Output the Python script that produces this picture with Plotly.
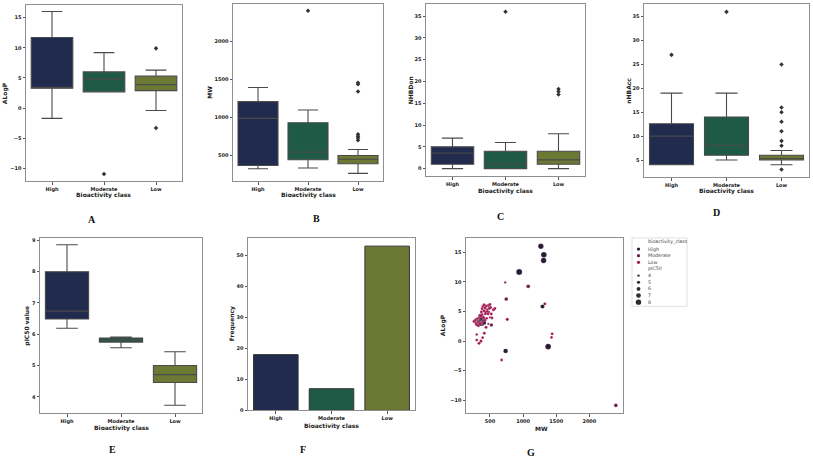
import plotly.graph_objects as go

W, H = 813, 461
classes = ["High", "Moderate", "Low"]
class_fill = ["#212b4e", "#1f5a46", "#6b7934"]

# ---- A: ALogP box stats
alogp_q1 = [3.3, 2.7, 2.9]
alogp_med = [3.4, 4.8, 3.9]
alogp_q3 = [11.7, 6.0, 5.3]
alogp_lo = [-1.7, 2.7, -0.4]
alogp_hi = [16.0, 9.2, 6.3]
alogp_out_cls = ["Moderate", "Low", "Low"]
alogp_out = [-10.9, 9.9, -3.3]

# ---- B: MW box stats
mw_q1 = [363, 438, 386]
mw_med = [985, 540, 445]
mw_q3 = [1205, 927, 495]
mw_lo = [320, 329, 258]
mw_hi = [1393, 1094, 574]
mw_out_cls = ["Moderate", "Low", "Low", "Low", "Low", "Low", "Low", "Low"]
mw_out = [2405, 1455, 1435, 1340, 775, 750, 725, 695]

# ---- C: NHBDon box stats
don_q1 = [1, 0, 1]
don_med = [3.6, 1, 2]
don_q3 = [5, 4, 4]
don_lo = [0, 0, 0]
don_hi = [7, 6, 8]
don_out_cls = ["Moderate", "Low", "Low", "Low"]
don_out = [36, 18.3, 17.7, 17]

# ---- D: nHBAcc box stats
acc_q1 = [4, 6, 5]
acc_med = [10, 8, 5.3]
acc_q3 = [12.6, 14, 6]
acc_lo = [4, 5, 4]
acc_hi = [19, 19, 7]
acc_out_cls = ["High", "Moderate", "Low", "Low", "Low", "Low", "Low", "Low", "Low", "Low"]
acc_out = [27, 36, 25, 16, 15, 13, 11, 9, 8, 3]

# ---- E: pIC50 box stats
pic_q1 = [6.49, 5.75, 4.46]
pic_med = [6.74, 5.82, 4.71]
pic_q3 = [8.0, 5.88, 5.0]
pic_lo = [6.19, 5.57, 3.73]
pic_hi = [8.86, 5.91, 5.44]
pic_out_cls = []
pic_out = []

# ---- F: counts
counts = [18, 7, 53]

# ---- G: scatter MW vs ALogP
high_mw = [1268, 1313, 1309, 941, 1293, 736, 1378, 330, 345, 352, 360, 372, 380, 395, 405, 340, 366, 410]
high_alogp = [16.0, 14.57, 13.6, 11.67, 5.83, -1.67, -0.93, 3.3, 3.0, 3.6, 3.2, 3.5, 2.9, 3.7, 3.4, 2.8, 3.9, 3.1]
high_pic50 = [8.0, 8.3, 8.1, 8.8, 6.3, 7.0, 8.5, 6.5, 6.8, 6.2, 7.2, 6.6, 6.4, 6.7, 6.3, 6.5, 6.2, 6.6]

mod_mw = [2400, 1077, 745, 440, 520, 480, 350]
mod_alogp = [-10.83, 9.23, 7.1, 4.8, 2.7, 6.0, 4.3]
mod_pic50 = [5.8, 5.9, 5.75, 5.85, 5.6, 5.8, 5.88]

low_mw = [730, 1328, 676, 1429, 1438, 761,
          390, 440, 490, 510, 459, 410, 550, 480, 430, 380,
          520, 500, 450, 400, 339, 300, 272, 262, 289, 380,
          410, 500, 560, 575, 470, 360, 369, 310, 282, 300,
          324, 440, 474, 414, 390, 364, 334, 300, 300, 420,
          530, 455, 345, 380, 490, 425, 355]
low_alogp = [9.9, 6.28, -3.2, 0.62, 1.22, 3.67,
             5.78, 5.9, 6.0, 5.67, 5.33, 5.12, 5.23, 4.9, 4.57, 4.45,
             4.57, 4.0, 3.83, 4.0, 4.0, 3.67, 3.45, 3.33, 3.0, 5.45,
             6.1, 6.2, 5.35, 5.5, 4.6, 4.25, 4.9, 3.8, 3.55, 2.78,
             2.57, 2.33, 2.9, 1.33, 0.57, 0.0, -0.38, 0.17, 1.12, 3.5,
             3.9, 5.0, 3.2, 3.1, 5.5, 5.6, 2.9]
low_pic50 = [4.0, 4.8, 4.6, 4.5, 4.7, 5.0,
             4.7, 5.1, 4.5, 4.9, 4.3, 5.0, 4.6, 4.8, 4.4, 5.2,
             4.7, 3.9, 4.5, 5.0, 4.6, 4.8, 4.2, 5.3, 4.7, 4.5,
             4.9, 4.6, 5.0, 4.4, 4.8, 5.4, 4.7, 4.3, 4.6, 5.1,
             4.5, 4.9, 3.73, 4.7, 4.4, 5.0, 4.8, 4.6, 4.2, 5.2,
             4.7, 4.5, 4.9, 4.1, 4.6, 4.8, 5.0]

scatter_colors = ["#2b1a33", "#6e1f4f", "#a3164f"]
legend_sizes = [4, 5, 6, 7, 8]


def size_px(p):
    return 2.4 + (p - 4) * 0.75


def xd(a, b):
    return [a / W, b / W]


def yd(top, bot):
    return [1 - bot / H, 1 - top / H]


FONT = "DejaVu Sans"
TICKFONT = dict(family=FONT, size=5, color="#222", weight="bold")
AX = dict(showline=True, mirror=True, linecolor="#8f8f8f", linewidth=1,
          ticks="outside", ticklen=2.5, tickwidth=0.8, tickcolor="#555",
          showgrid=False, zeroline=False, tickfont=TICKFONT)

fig = go.Figure()
annotations = []
layout_axes = {}


def add_title(text, x, y, angle=0, size=6):
    annotations.append(dict(text=text, x=x / W, y=1 - y / H, xref="paper", yref="paper",
                            showarrow=False, textangle=angle, xanchor="center", yanchor="middle",
                            font=dict(family=FONT, size=size, color="#222", weight="bold")))


def add_letter(text, x, y):
    annotations.append(dict(text=text, x=x / W, y=1 - y / H, xref="paper", yref="paper",
                            showarrow=False, xanchor="center", yanchor="middle",
                            font=dict(family="Liberation Serif", size=10, color="#111", weight="bold")))


box_panels = [
    dict(n=1, q1=alogp_q1, med=alogp_med, q3=alogp_q3, lo=alogp_lo, hi=alogp_hi,
         oc=alogp_out_cls, ov=alogp_out, xdom=(26, 182), ydom=(4, 182), yr=[-12.14, 17.09],
         yt=[-10, -5, 0, 5, 10, 15], ytitle="ALogP", ytx=5, xty=196, letter="A", lx=92, ly=220),
    dict(n=2, q1=mw_q1, med=mw_med, q3=mw_q3, lo=mw_lo, hi=mw_hi,
         oc=mw_out_cls, ov=mw_out, xdom=(233, 383), ydom=(3, 182), yr=[152, 2495],
         yt=[500, 1000, 1500, 2000], ytitle="MW", ytx=210, xty=196, letter="B", lx=316, ly=219),
    dict(n=3, q1=don_q1, med=don_med, q3=don_q3, lo=don_lo, hi=don_hi,
         oc=don_out_cls, ov=don_out, xdom=(426, 585), ydom=(3, 177), yr=[-1.8, 37.8],
         yt=[0, 5, 10, 15, 20, 25, 30, 35], ytitle="NHBDon", ytx=410, xty=192, letter="C", lx=500, ly=217),
    dict(n=4, q1=acc_q1, med=acc_med, q3=acc_q3, lo=acc_lo, hi=acc_hi,
         oc=acc_out_cls, ov=acc_out, xdom=(644, 809), ydom=(3, 178), yr=[1.35, 37.65],
         yt=[5, 10, 15, 20, 25, 30, 35], ytitle="nHBAcc", ytx=629, xty=192, letter="D", lx=716, ly=213),
    dict(n=5, q1=pic_q1, med=pic_med, q3=pic_q3, lo=pic_lo, hi=pic_hi,
         oc=pic_out_cls, ov=pic_out, xdom=(40, 202), ydom=(239, 416), yr=[3.47, 9.08],
         yt=[4, 5, 6, 7, 8, 9], ytitle="pIC50 value", ytx=27, xty=431, letter="E", lx=112, ly=452),
]

for p in box_panels:
    n = p["n"]
    xa, ya = f"x{n}", f"y{n}"
    for i, c in enumerate(classes):
        fig.add_trace(go.Box(
            x=[c], q1=[p["q1"][i]], median=[p["med"][i]], q3=[p["q3"][i]],
            lowerfence=[p["lo"][i]], upperfence=[p["hi"][i]],
            width=0.8, whiskerwidth=0.5, boxpoints=False,
            fillcolor=class_fill[i], line=dict(color="#4a4a4a", width=1.1),
            xaxis=xa, yaxis=ya, showlegend=False, hoverinfo="skip"))
    if p["ov"]:
        fig.add_trace(go.Scatter(
            x=p["oc"], y=p["ov"], mode="markers",
            marker=dict(symbol="diamond", size=3.5, color="#333", opacity=1),
            xaxis=xa, yaxis=ya, showlegend=False, hoverinfo="skip"))
    sfx = "" if n == 1 else str(n)
    layout_axes[f"xaxis{sfx}"] = dict(AX, domain=xd(*p["xdom"]), anchor=ya, type="category",
                                      categoryorder="array", categoryarray=classes, range=[-0.5, 2.5])
    layout_axes[f"yaxis{sfx}"] = dict(AX, domain=yd(*p["ydom"]), anchor=xa, range=p["yr"],
                                      tickvals=p["yt"])
    add_title(p["ytitle"], p["ytx"], (p["ydom"][0] + p["ydom"][1]) / 2, angle=-90)
    add_title("Bioactivity class", (p["xdom"][0] + p["xdom"][1]) / 2, p["xty"])
    add_letter(p["letter"], p["lx"], p["ly"])

# ---- F: bar chart
fig.add_trace(go.Bar(x=classes, y=counts, width=0.8,
                     marker=dict(color=class_fill, line=dict(color="#333", width=1)),
                     xaxis="x6", yaxis="y6", showlegend=False, hoverinfo="skip"))
layout_axes["xaxis6"] = dict(AX, domain=xd(248, 415), anchor="y6", type="category",
                             categoryorder="array", categoryarray=classes, range=[-0.5, 2.5])
layout_axes["yaxis6"] = dict(AX, domain=yd(239, 413), anchor="x6", range=[0, 55.65],
                             tickvals=[0, 10, 20, 30, 40, 50])
add_title("Frequency", 232, 326, angle=-90)
add_title("Bioactivity class", 331, 429)
add_letter("F", 303, 452)

# ---- G: scatter
for mw, al, pc, col in [(high_mw, high_alogp, high_pic50, scatter_colors[0]),
                        (mod_mw, mod_alogp, mod_pic50, scatter_colors[1]),
                        (low_mw, low_alogp, low_pic50, scatter_colors[2])]:
    fig.add_trace(go.Scatter(x=mw, y=al, mode="markers",
                             marker=dict(color=col, size=[size_px(v) for v in pc], opacity=1,
                                         line=dict(color="white", width=0.2)),
                             xaxis="x7", yaxis="y7", showlegend=False, hoverinfo="skip"))
layout_axes["xaxis7"] = dict(AX, domain=xd(466, 623), anchor="y7", range=[138, 2508],
                             tickvals=[500, 1000, 1500, 2000])
layout_axes["yaxis7"] = dict(AX, domain=yd(239, 416), anchor="x7", range=[-12.2, 17.4],
                             tickvals=[-10, -5, 0, 5, 10, 15])
add_title("ALogP", 443, 327, angle=-90)
add_title("MW", 541, 431)
add_letter("G", 531, 455)

# ---- G legend (drawn in an auxiliary axis, pixel units inside the box)
LX0, LX1, LY0, LY1 = 632, 687, 239, 308
layout_axes["xaxis8"] = dict(domain=xd(LX0, LX1), anchor="y8", range=[0, LX1 - LX0],
                             visible=False, fixedrange=True)
layout_axes["yaxis8"] = dict(domain=yd(LY0, LY1), anchor="x8", range=[LY1 - LY0, 0],
                             visible=False, fixedrange=True)
step = 6.7
labels = ["bioactivity_class"] + classes + ["pIC50"] + [str(s) for s in legend_sizes]
ys = [4.5 + i * step for i in range(len(labels))]
mk_x, mk_y, mk_c, mk_s = [], [], [], []
for i, c in enumerate(classes):
    mk_x.append(6.5); mk_y.append(ys[1 + i]); mk_c.append(scatter_colors[i]); mk_s.append(3.2)
for j, s in enumerate(legend_sizes):
    mk_x.append(6.5); mk_y.append(ys[5 + j]); mk_c.append("#2b2b2b"); mk_s.append(size_px(s))
fig.add_trace(go.Scatter(x=mk_x, y=mk_y, mode="markers",
                         marker=dict(color=mk_c, size=mk_s, opacity=1, line=dict(width=0)),
                         xaxis="x8", yaxis="y8", showlegend=False, hoverinfo="skip"))
for i, t in enumerate(labels):
    annotations.append(dict(text=t, x=14, y=ys[i], xref="x8", yref="y8", showarrow=False,
                            xanchor="left", yanchor="middle",
                            font=dict(family=FONT, size=4.8, color="#444")))

shapes = [dict(type="rect", xref="paper", yref="paper",
               x0=LX0 / W, x1=LX1 / W, y0=1 - LY1 / H, y1=1 - LY0 / H,
               line=dict(color="#d8d8d8", width=0.8), fillcolor="rgba(255,255,255,0.8)",
               layer="below")]

fig.update_layout(width=W, height=H, margin=dict(l=0, r=0, t=0, b=0),
                  paper_bgcolor="white", plot_bgcolor="white",
                  font=dict(family=FONT, color="#222"),
                  showlegend=False, annotations=annotations, shapes=shapes,
                  **layout_axes)

fig.write_html("out.html", config={"displayModeBar": False},
               post_script="document.body.style.margin='0px';document.body.style.padding='0px';"
                           "document.body.style.overflow='hidden';")
